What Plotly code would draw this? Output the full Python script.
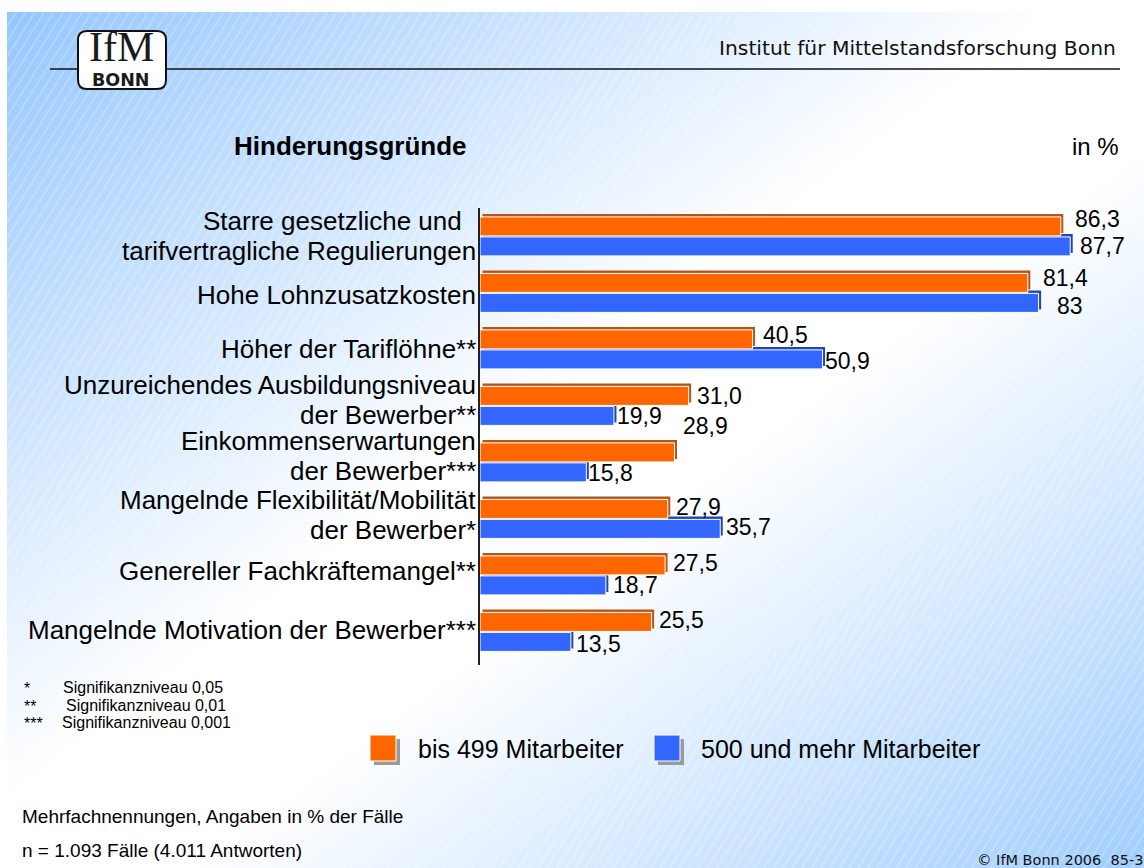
import base64
import plotly.graph_objects as go

# ---------------------------------------------------------------- data
categories = [
    "Starre gesetzliche und  <br>tarifvertragliche Regulierungen",
    "Hohe Lohnzusatzkosten",
    "Höher der Tariflöhne**",
    "Unzureichendes Ausbildungsniveau<br>der Bewerber**",
    "Einkommenserwartungen<br>der Bewerber***",
    "Mangelnde Flexibilität/Mobilität<br>der Bewerber*",
    "Genereller Fachkräftemangel**",
    "Mangelnde Motivation der Bewerber***",
]
small_firms = [86.3, 81.4, 40.5, 31.0, 28.9, 27.9, 27.5, 25.5]
large_firms = [87.7, 83, 50.9, 19.9, 15.8, 35.7, 18.7, 13.5]
series_names = ["bis 499 Mitarbeiter", "500 und mehr Mitarbeiter"]

footnotes_sig = [("*", "Signifikanzniveau 0,05"),
                 ("**", "Signifikanzniveau 0,01"),
                 ("***", "Signifikanzniveau 0,001")]
footnote_cases = "Mehrfachnennungen, Angaben in % der Fälle"
footnote_n = "n = 1.093 Fälle (4.011 Antworten)"

# ---------------------------------------------------------------- styling
W, H = 1144, 868
FONT = "Liberation Sans, Arial, sans-serif"
FONT_V = "DejaVu Sans, Verdana, sans-serif"
ORANGE, ORANGE_DARK = "#FF6600", "#B4561A"
BLUE, BLUE_DARK = "#3366FF", "#2245B5"

PLOT_L, PLOT_R, PLOT_T, PLOT_B = 480, 1144, 208, 665
PX_PER_PCT = 6.73
GROUP_PX = 56.5
FIRST_CENTER = 236.4
BAR_PX = 19
PAIR_SHIFT = 10          # bar centre distance from group centre
SHADOW_DX, SHADOW_DY = 2.5, 3

# label nudges (px): value labels (right, down), category blocks (down)
small_dx = [14, 15, 10, 8, 8, 8, 8, 7]
small_dy = [-7, -5, -4.5, 0, -26, -2, -2, -2]
large_dx = [10, 18, 2, 3, 2, 6, 7, 5]
large_dy = [0, 3, 2, 0, 1, -2, 0, 2]
cat_dy = [0, 2, 0, -5.5, -6.5, -3.5, -4, -2]
CAT_LINE_GAP = 30


def fx(x):
    return x / W


def fy(y):
    return 1 - y / H


def fmt(v):
    return str(v) if isinstance(v, int) else f"{v:.1f}".replace(".", ",")


y_top = -(FIRST_CENTER - PLOT_T) / GROUP_PX
y_bot = (PLOT_B - FIRST_CENTER) / GROUP_PX
x_max = (PLOT_R - PLOT_L) / PX_PER_PCT
bw = BAR_PX / GROUP_PX
off_small = (-PAIR_SHIFT - BAR_PX / 2) / GROUP_PX
off_large = (PAIR_SHIFT - BAR_PX / 2) / GROUP_PX
sh_up = SHADOW_DY / GROUP_PX
sh_dx = SHADOW_DX / PX_PER_PCT
idx = list(range(len(categories)))

fig = go.Figure()

# shadows first, then the bars on top
for vals, off, col in [(small_firms, off_small, ORANGE_DARK),
                       (large_firms, off_large, BLUE_DARK)]:
    fig.add_trace(go.Bar(y=idx, x=vals, base=sh_dx, orientation="h",
                         width=bw, offset=off - sh_up,
                         marker=dict(color=col, line=dict(width=0)),
                         hoverinfo="skip", showlegend=False))
for vals, off, col, name in [(small_firms, off_small, ORANGE, series_names[0]),
                             (large_firms, off_large, BLUE, series_names[1])]:
    fig.add_trace(go.Bar(y=idx, x=vals, orientation="h", name=name,
                         width=bw, offset=off,
                         marker=dict(color=col, line=dict(color="white", width=1)),
                         hoverinfo="skip", showlegend=False))

ann = []
# value labels
for vals, off, dxs, dys in [(small_firms, off_small, small_dx, small_dy),
                            (large_firms, off_large, large_dx, large_dy)]:
    for i, v in enumerate(vals):
        ann.append(dict(x=v, y=i + off + bw / 2, xref="x", yref="y",
                        text=fmt(v), showarrow=False, xanchor="left",
                        yanchor="middle", xshift=dxs[i] - 2, yshift=-dys[i],
                        font=dict(family=FONT, size=23, color="black")))

# category labels
for i, cat in enumerate(categories):
    lines = cat.split("<br>")
    n = len(lines)
    for k, line in enumerate(lines):
        text = line.rstrip(" ") + "\u00a0" * (len(line) - len(line.rstrip(" ")))
        dy = (k - (n - 1) / 2) * CAT_LINE_GAP + cat_dy[i]
        ann.append(dict(x=fx(478), y=i, xref="paper", yref="y", text=text,
                        showarrow=False, xanchor="right", yanchor="middle",
                        yshift=-dy, font=dict(family=FONT, size=26, color="black")))

# titles and page texts
ann += [
    dict(x=fx(232), y=fy(146), text="<b>Hinderungsgründe</b>", xanchor="left",
         font=dict(family=FONT, size=26, color="black")),
    dict(x=fx(1121), y=fy(146), text="in %", xanchor="right",
         font=dict(family=FONT, size=24, color="black")),
    dict(x=fx(1118), y=fy(48), text="Institut für Mittelstandsforschung Bonn",
         xanchor="right", font=dict(family=FONT_V, size=20.3, color="#111111")),
    dict(x=fx(1145), y=fy(860), text="© IfM Bonn 2006  85-3", xanchor="right",
         font=dict(family=FONT_V, size=14.5, color="#111111")),
    dict(x=fx(121), y=fy(47), text="IfM", xanchor="center",
         font=dict(family="Liberation Serif, Times New Roman, serif", size=42,
                   color="#1a1a1a")),
    dict(x=fx(121), y=fy(80), text="<b>BONN</b>", xanchor="center",
         font=dict(family=FONT_V, size=17.5, color="#1a1a1a")),
    dict(x=fx(20), y=fy(816), text=footnote_cases, xanchor="left",
         font=dict(family=FONT, size=19, color="black")),
    dict(x=fx(20), y=fy(850), text=footnote_n, xanchor="left",
         font=dict(family=FONT, size=19, color="black")),
]
sig_y = [687, 705, 722]
sig_x = [61, 64, 60]
for (star, txt), yy, xx in zip(footnotes_sig, sig_y, sig_x):
    ann.append(dict(x=fx(22), y=fy(yy + 1.5), text=star, xanchor="left",
                    font=dict(family=FONT, size=16, color="black")))
    ann.append(dict(x=fx(xx), y=fy(yy), text=txt, xanchor="left",
                    font=dict(family=FONT, size=16, color="black")))

# legend entries
LEG_Y0, LEG_SIZE = 735, 26
legend_items = [(370, 416, ORANGE, series_names[0]),
                (654, 699, BLUE, series_names[1])]
shapes = []
for sx, tx, col, name in legend_items:
    shapes.append(dict(type="rect", xref="paper", yref="paper",
                       x0=fx(sx + 4), x1=fx(sx + 4 + LEG_SIZE),
                       y0=fy(LEG_Y0 + 4 + LEG_SIZE), y1=fy(LEG_Y0 + 4),
                       fillcolor="#9a9a9a", line=dict(width=0)))
    shapes.append(dict(type="rect", xref="paper", yref="paper",
                       x0=fx(sx), x1=fx(sx + LEG_SIZE),
                       y0=fy(LEG_Y0 + LEG_SIZE), y1=fy(LEG_Y0),
                       fillcolor=col, line=dict(color="white", width=1)))
    ann.append(dict(x=fx(tx), y=fy(LEG_Y0 + LEG_SIZE / 2 + 1), text=name,
                    xanchor="left",
                    font=dict(family=FONT, size=25, color="black")))

for a in ann:
    a.setdefault("xref", "paper")
    a.setdefault("yref", "paper")
    a.setdefault("showarrow", False)
    a.setdefault("yanchor", "middle")

# header rule and logo frame
shapes.append(dict(type="line", xref="paper", yref="paper",
                   x0=fx(50), x1=fx(1120), y0=fy(69), y1=fy(69),
                   line=dict(color="#111111", width=1.5)))
lx0, lx1, ly0, ly1, r = 78, 166, 31, 89, 9
path = (f"M {fx(lx0 + r)},{fy(ly0)} L {fx(lx1 - r)},{fy(ly0)} "
        f"Q {fx(lx1)},{fy(ly0)} {fx(lx1)},{fy(ly0 + r)} "
        f"L {fx(lx1)},{fy(ly1 - r)} Q {fx(lx1)},{fy(ly1)} {fx(lx1 - r)},{fy(ly1)} "
        f"L {fx(lx0 + r)},{fy(ly1)} Q {fx(lx0)},{fy(ly1)} {fx(lx0)},{fy(ly1 - r)} "
        f"L {fx(lx0)},{fy(ly0 + r)} Q {fx(lx0)},{fy(ly0)} {fx(lx0 + r)},{fy(ly0)} Z")
shapes.append(dict(type="path", xref="paper", yref="paper", path=path,
                   fillcolor="white", line=dict(color="#111111", width=2)))

# page background: diagonal blue-white-blue gradient with fine hatching
bg_svg = f"""<svg xmlns="http://www.w3.org/2000/svg" width="{W}" height="{H}" viewBox="0 0 {W} {H}">
<defs>
<linearGradient id="g" x1="0" y1="0" x2="1" y2="1">
<stop offset="0" stop-color="#95C6FF"/>
<stop offset="0.46" stop-color="#FFFFFF"/>
<stop offset="0.58" stop-color="#FFFFFF"/>
<stop offset="1" stop-color="#A0CDFF"/>
</linearGradient>
<pattern id="h" width="8" height="8" patternUnits="userSpaceOnUse" patternTransform="rotate(32)">
<line x1="4" y1="0" x2="4" y2="8" stroke="#FFFFFF" stroke-width="1" stroke-opacity="0.4"/>
</pattern>
</defs>
<rect width="{W}" height="{H}" fill="#FFFFFF"/>
<rect x="7" y="12" width="{W - 7}" height="{H - 12}" fill="url(#g)"/>
<rect x="7" y="12" width="{W - 7}" height="{H - 12}" fill="url(#h)"/>
</svg>"""
bg_src = "data:image/svg+xml;base64," + base64.b64encode(bg_svg.encode()).decode()

fig.update_layout(
    width=W, height=H, autosize=False,
    margin=dict(l=0, r=0, t=0, b=0),
    paper_bgcolor="white", plot_bgcolor="rgba(0,0,0,0)",
    barmode="overlay", showlegend=False,
    xaxis=dict(domain=[fx(PLOT_L), 1], range=[0, x_max], visible=False,
               fixedrange=True),
    yaxis=dict(domain=[fy(PLOT_B), fy(PLOT_T)], range=[y_bot, y_top],
               showline=True, linecolor="#222222", linewidth=2,
               showticklabels=False, ticks="", showgrid=False,
               zeroline=False, fixedrange=True),
    annotations=ann, shapes=shapes,
    images=[dict(source=bg_src, xref="paper", yref="paper", x=0, y=1,
                 sizex=1, sizey=1, xanchor="left", yanchor="top",
                 sizing="stretch", layer="below")],
)

fig.write_html("out.html")
